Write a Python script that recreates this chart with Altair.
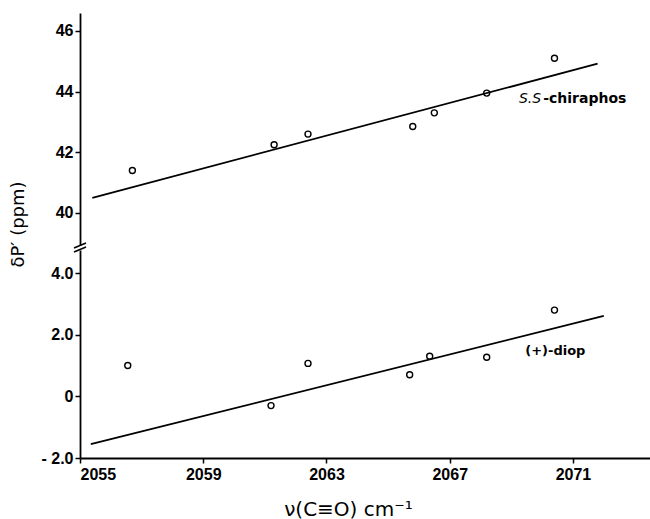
import altair as alt
import pandas as pd

# ---- data ----
top_x = [2056.7, 2061.3, 2062.4, 2065.8, 2066.5, 2068.2, 2070.4]
top_y = [41.4, 42.25, 42.6, 42.85, 43.3, 43.95, 45.1]
bot_x = [2056.55, 2061.2, 2062.4, 2065.7, 2066.35, 2068.2, 2070.4]
bot_y = [1.0, -0.3, 1.07, 0.7, 1.3, 1.27, 2.8]

top_fit_x = [2055.4, 2071.8]
top_fit_y = [40.5, 44.92]
bot_fit_x = [2055.35, 2072.0]
bot_fit_y = [-1.55, 2.61]

x_ticks = [2055, 2059, 2063, 2067, 2071]
top_ticks = [40, 42, 44, 46]
bot_ticks = [-2, 0, 2, 4]

top_label_italic = ["S.S"]
top_label_rest = ["-chiraphos"]
top_label_x = [2070.0]
top_label_y = [43.77]
bot_label = ["(+)-diop"]
bot_label_x = [2069.45]
bot_label_y = [1.48]

# ---- tables ----
top_pts = pd.DataFrame({"x": top_x, "y": top_y})
bot_pts = pd.DataFrame({"x": bot_x, "y": bot_y})
top_fit = pd.DataFrame({"x": top_fit_x, "y": top_fit_y})
bot_fit = pd.DataFrame({"x": bot_fit_x, "y": bot_fit_y})
top_lab = pd.DataFrame({"x": top_label_x, "y": top_label_y,
                        "a": top_label_italic, "b": top_label_rest})
bot_lab = pd.DataFrame({"x": bot_label_x, "y": bot_label_y, "t": bot_label})
one = pd.DataFrame({"k": [0]})

W = 570
H_TOP = 232
H_BOT = 208

xs = alt.Scale(domain=[2055, 2073.5], nice=False, zero=False)
ys_top = alt.Scale(domain=[38.945, 46.59], nice=False, zero=False)
ys_bot = alt.Scale(domain=[-2, 4.75], nice=False, zero=False)

pt_style = dict(shape="circle", filled=False, size=36, strokeWidth=1.4, color="black", opacity=1)
ln_style = dict(color="black", strokeWidth=1.8)

# ---- top panel ----
y_axis_top = alt.Axis(values=top_ticks, format="d", grid=False,
                      title="δP′ (ppm)", titleX=-62, titleY=211,
                      titleAngle=270, titleAlign="center", titleBaseline="middle")

top_line = alt.Chart(top_fit).mark_line(**ln_style).encode(
    x=alt.X("x:Q", scale=xs, axis=None),
    y=alt.Y("y:Q", scale=ys_top, axis=y_axis_top),
)
top_points = alt.Chart(top_pts).mark_point(**pt_style).encode(
    x=alt.X("x:Q", scale=xs, axis=None),
    y=alt.Y("y:Q", scale=ys_top),
)
top_text_a = alt.Chart(top_lab).mark_text(
    align="right", baseline="middle", font="DejaVu Sans", fontStyle="italic",
    fontSize=14, color="black", dx=-1
).encode(x=alt.X("x:Q", scale=xs), y=alt.Y("y:Q", scale=ys_top), text="a:N")
top_text_b = alt.Chart(top_lab).mark_text(
    align="left", baseline="middle", font="DejaVu Sans", fontWeight="bold",
    fontSize=14, color="black", dx=1
).encode(x=alt.X("x:Q", scale=xs), y=alt.Y("y:Q", scale=ys_top), text="b:N")
top_break = alt.Chart(one).mark_rule(color="black", strokeWidth=1.6).encode(
    x=alt.value(-6), x2=alt.value(6), y=alt.value(H_TOP + 3), y2=alt.value(H_TOP - 2)
)

top = alt.layer(top_line, top_points, top_text_a, top_text_b, top_break).properties(
    width=W, height=H_TOP
)

# ---- bottom panel ----
y_axis_bot = alt.Axis(values=bot_ticks, grid=False, title=None,
                      labelExpr="datum.value == 0 ? '0' : (datum.value < 0 ? '- ' + format(-datum.value, '.1f') : format(datum.value, '.1f'))")
x_axis_bot = alt.Axis(values=x_ticks, format="d", grid=False,
                      title="ν(C≡O) cm⁻¹", titleX=268, titleY=51, titleFontSize=20,
                      titleBaseline="middle", titleAlign="center", labelPadding=3)

bot_line = alt.Chart(bot_fit).mark_line(**ln_style).encode(
    x=alt.X("x:Q", scale=xs, axis=x_axis_bot),
    y=alt.Y("y:Q", scale=ys_bot, axis=y_axis_bot),
)
bot_points = alt.Chart(bot_pts).mark_point(**pt_style).encode(
    x=alt.X("x:Q", scale=xs),
    y=alt.Y("y:Q", scale=ys_bot),
)
bot_text = alt.Chart(bot_lab).mark_text(
    align="left", baseline="middle", font="DejaVu Sans", fontWeight="bold",
    fontSize=13, color="black"
).encode(x=alt.X("x:Q", scale=xs), y=alt.Y("y:Q", scale=ys_bot), text="t:N")
bot_break = alt.Chart(one).mark_rule(color="black", strokeWidth=1.6).encode(
    x=alt.value(-6), x2=alt.value(6), y=alt.value(2), y2=alt.value(-3)
)

bottom = alt.layer(bot_line, bot_points, bot_text, bot_break).properties(
    width=W, height=H_BOT
)

chart = alt.vconcat(top, bottom, spacing=5, bounds="flush").properties(
    padding={"left": 9, "top": 13, "right": 0, "bottom": 2},
    background="white",
).configure_view(stroke=None).configure_axis(
    domainColor="black", domainWidth=1.8, tickColor="black", tickWidth=1.5,
    tickSize=5, labelFont="Liberation Sans", labelFontWeight="bold",
    labelFontSize=16, labelColor="black", titleColor="black",
    titleFont="DejaVu Sans", titleFontWeight="normal", titleFontSize=18,
)

chart.save("out.html", embed_options={"renderer": "svg", "actions": False})
